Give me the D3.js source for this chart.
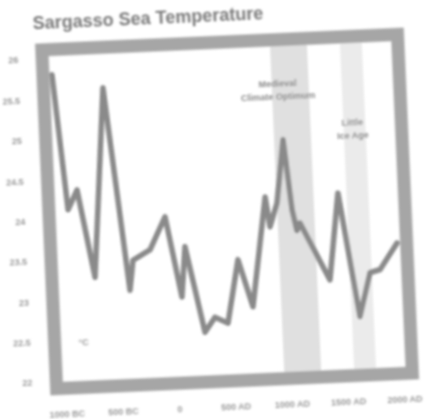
<!DOCTYPE html>
<html><head><meta charset="utf-8">
<script src="https://cdn.jsdelivr.net/npm/d3@7"></script>
<style>html,body{margin:0;padding:0;background:#fff;}svg{display:block;}</style>
</head><body>
<svg id="c" width="435" height="419"></svg>
<script>
const title = "Sargasso Sea Temperature";
const years = [-1000, -909, -822, -696, -553, -391, -353, -198, -52, 67, 113, 258, 352, 465, 578, 693, 843, 875, 946, 1024, 1077, 1112, 1142, 1386, 1490, 1638, 1744, 1834, 1995];
const temps = [25.80, 24.12, 24.36, 23.27, 25.61, 23.09, 23.46, 23.58, 23.98, 22.98, 23.60, 22.53, 22.71, 22.63, 23.41, 22.82, 24.17, 23.80, 24.09, 24.87, 24.00, 23.74, 23.83, 23.11, 24.18, 22.64, 23.18, 23.21, 23.53];
const yTicks = [22, 22.5, 23, 23.5, 24, 24.5, 25, 25.5, 26];
const xTicks = [-1000, -500, 0, 500, 1000, 1500, 2000];
const bands = [{from: 945, to: 1273, label: ["Medieval", "Climate Optimum"]}, {from: 1565, to: 1760, label: ["Little", "Ice Age"]}];
const unitLabel = "°C";

const svg = d3.select("#c");
const defs = svg.append("defs");
defs.append("filter").attr("id", "soft").attr("x", "-5%").attr("y", "-5%").attr("width", "110%").attr("height", "110%")
  .append("feGaussianBlur").attr("stdDeviation", 1.1);
const g = svg.append("g").attr("transform", "rotate(-2.5,227,210)").attr("filter", "url(#soft)");
const x = d3.scaleLinear().domain([-1000, 2000]).range([58, 396]);
const y = d3.scaleLinear().domain([22, 26]).range([374, 51]);
const frame = {x0: 49, x1: 405, y0: 42, y1: 381};
const font = "Liberation Sans, Arial, sans-serif";

g.append("text").attr("x", 41).attr("y", 21).attr("font-family", font)
  .attr("font-size", 18).attr("font-weight", "bold").attr("fill", "#7a7a7a").text(title);

// bands
const bandFill = ["#e0e0e0", "#ebebeb"];
bands.forEach((b, i) => {
  g.append("rect").attr("x", x(b.from)).attr("width", x(b.to) - x(b.from))
    .attr("y", frame.y0).attr("height", frame.y1 - frame.y0).attr("fill", bandFill[i]);
});

// line
const data = years.map((d, i) => ({year: d, t: temps[i]}));
g.append("path").datum(data).attr("fill", "none").attr("stroke", "#8a8a8a").attr("stroke-width", 5.5)
  .attr("stroke-linejoin", "round").attr("stroke-linecap", "round")
  .attr("d", d3.line().x(d => x(d.year)).y(d => y(d.t)));

// annotations
const annY = [[89, 102], [131, 144]];
bands.forEach((b, i) => {
  const cx = i === 0 ? 283 : 356;
  b.label.forEach((s, j) => {
    g.append("text").attr("x", cx).attr("y", annY[i][j]).attr("text-anchor", "middle")
      .attr("font-family", font).attr("font-size", 9).attr("font-weight", "bold")
      .attr("fill", "#8a8a8a").text(s);
  });
});

// frame
g.append("rect").attr("x", frame.x0).attr("y", frame.y0).attr("width", frame.x1 - frame.x0)
  .attr("height", frame.y1 - frame.y0).attr("fill", "none").attr("stroke", "#a6a6a6").attr("stroke-width", 13);

g.append("text").attr("x", 73).attr("y", 339).attr("font-family", font)
  .attr("font-size", 9).attr("font-weight", "bold").attr("fill", "#999").text(unitLabel);

// axes
const ya = g.append("g").attr("transform", "translate(28,0)")
  .call(d3.axisLeft(y).tickValues(yTicks).tickSize(0).tickPadding(3)
    .tickFormat(d => (d % 1 ? d.toFixed(1) : d)));
const xa = g.append("g").attr("transform", "translate(0,401)")
  .call(d3.axisBottom(x).tickValues(xTicks).tickSize(0).tickPadding(3)
    .tickFormat(d => d < 0 ? (-d) + " BC" : d === 0 ? "0" : d + " AD"));
[ya, xa].forEach(a => {
  a.select(".domain").remove();
  a.selectAll("text").attr("font-family", font).attr("font-size", 9).attr("font-weight", "bold")
    .attr("fill", "#9a9a9a");
});
</script>
</body></html>
